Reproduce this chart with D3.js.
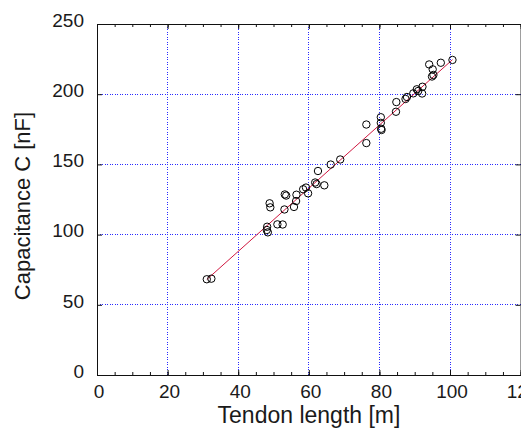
<!DOCTYPE html>
<html>
<head>
<meta charset="utf-8">
<script src="https://cdn.jsdelivr.net/npm/d3@7"></script>
<style>
  html, body { margin: 0; padding: 0; background: #fff; }
  svg { display: block; }
  text { font-family: "Liberation Sans", Arial, Helvetica, sans-serif; fill: #1a1a1a; }
</style>
</head>
<body>
<svg id="chart" width="521" height="428"></svg>
<script>
// ---- data ----
const tendonLength = [31.1, 32.4, 48.1, 48.2, 48.4, 48.9, 49.1, 51.1, 52.6, 53.1,
  53.2, 53.6, 55.8, 56.4, 56.5, 58.4, 59.2, 59.8, 61.8, 62.2,
  64.4, 62.6, 66.2, 68.9, 76.3, 76.3, 80.4, 80.4, 80.5, 80.6,
  84.8, 84.7, 87.4, 87.8, 89.6, 90.6, 91.0, 92.1, 92.2, 94.1,
  95.1, 95.3, 94.9, 97.4, 100.7];
const capacitance = [68.2, 68.6, 103.3, 105.6, 101.6, 122.3, 119.4, 107.3, 107.2, 117.9,
  128.6, 127.8, 119.7, 123.9, 128.4, 132.3, 133.5, 129.4, 137.1, 136.0,
  135.1, 145.3, 149.9, 153.5, 178.4, 165.2, 183.6, 179.6, 175.4, 174.5,
  194.4, 187.5, 196.6, 198.0, 200.6, 203.5, 202.3, 200.5, 205.3, 221.2,
  217.7, 213.7, 212.6, 222.4, 224.4];
const fitX = [31.1, 100.7];
const fitY = [68.0, 224.6];
const xTicks = [0, 20, 40, 60, 80, 100, 120];
const xMinorTicks = d3.range(0, 121, 5);
const yTicks = [0, 50, 100, 150, 200, 250];
const xLabel = "Tendon length [m]";
const yLabel = "Capacitance C [nF]";

// ---- layout ----
const svg = d3.select("#chart");
const pL = 97, pR = 520.6, pT = 24, pB = 375;
const x = d3.scaleLinear().domain([0, 120]).range([pL, pR]);
const y = d3.scaleLinear().domain([0, 250]).range([pB, pT]);

// grid
const grid = svg.append("g").attr("class", "grid");
grid.selectAll("line.gx").data(xTicks.filter(d => d > 0 && d < 120)).join("line")
  .attr("class", "gx")
  .attr("x1", d => x(d)).attr("x2", d => x(d))
  .attr("y1", pT).attr("y2", pB);
grid.selectAll("line.gy").data(yTicks.filter(d => d > 0 && d < 250)).join("line")
  .attr("class", "gy")
  .attr("x1", pL).attr("x2", pR)
  .attr("y1", d => y(d)).attr("y2", d => y(d));
grid.selectAll("line")
  .attr("stroke", "#2a2aff").attr("stroke-width", 1)
  .attr("stroke-dasharray", "1,1.5").attr("shape-rendering", "crispEdges");

// axes
function styleAxis(g) {
  g.selectAll(".domain").attr("stroke", "#111").attr("stroke-width", 1);
  g.selectAll(".tick line").attr("stroke", "#111");
  g.selectAll(".tick text").style("font-size", "19px").attr("fill", "#1a1a1a");
}
// bottom minor
svg.append("g").attr("transform", `translate(0,${pB})`)
  .call(d3.axisBottom(x).tickValues(xMinorTicks).tickSize(-3).tickFormat(""))
  .call(g => g.select(".domain").remove())
  .call(styleAxis);
// top minor
svg.append("g").attr("transform", `translate(0,${pT})`)
  .call(d3.axisTop(x).tickValues(xMinorTicks).tickSize(-3).tickFormat(""))
  .call(g => g.select(".domain").remove())
  .call(styleAxis);
// bottom major
svg.append("g").attr("transform", `translate(0,${pB})`)
  .call(d3.axisBottom(x).tickValues(xTicks).tickSizeInner(-5).tickSizeOuter(0).tickPadding(10).tickFormat(d3.format("d")))
  .call(styleAxis)
  .call(g => g.selectAll(".tick text").attr("dx", "0.08em"));
// top major
svg.append("g").attr("transform", `translate(0,${pT})`)
  .call(d3.axisTop(x).tickValues(xTicks).tickSizeInner(-5).tickSizeOuter(0).tickFormat(""))
  .call(styleAxis);
// left
svg.append("g").attr("transform", `translate(${pL},0)`)
  .call(d3.axisLeft(y).tickValues(yTicks).tickSizeInner(-5).tickSizeOuter(0).tickPadding(13).tickFormat(d3.format("d")))
  .call(styleAxis)
  .call(g => g.selectAll(".tick text").attr("dy", "0.12em"));
// right
svg.append("g").attr("transform", `translate(${pR},0)`)
  .call(d3.axisRight(y).tickValues(yTicks).tickSizeInner(-5).tickSizeOuter(0).tickFormat(""))
  .call(styleAxis);

// fit line
svg.append("path")
  .datum(fitX.map((d, i) => [d, fitY[i]]))
  .attr("fill", "none").attr("stroke", "#d01840").attr("stroke-width", 1)
  .attr("d", d3.line().x(d => x(d[0])).y(d => y(d[1])));

// points
svg.append("g").selectAll("circle")
  .data(tendonLength.map((d, i) => [d, capacitance[i]]))
  .join("circle")
  .attr("cx", d => x(d[0])).attr("cy", d => y(d[1]))
  .attr("r", 3.7).attr("fill", "none").attr("stroke", "#000").attr("stroke-width", 1);

// axis titles
svg.append("text").attr("x", 309).attr("y", 423).attr("text-anchor", "middle")
  .style("font-size", "23px").text(xLabel);
svg.append("text").attr("transform", `translate(30,206) rotate(-90)`)
  .attr("text-anchor", "middle").style("font-size", "22px").text(yLabel);
</script>
</body>
</html>
